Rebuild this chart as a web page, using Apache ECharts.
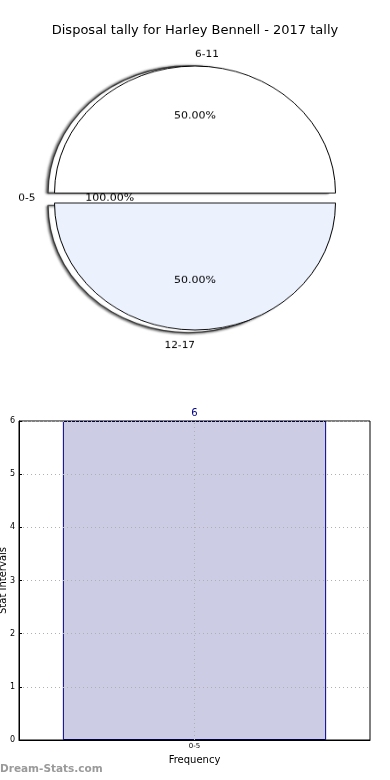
<!DOCTYPE html>
<html>
<head>
<meta charset="utf-8">
<script src="https://cdn.jsdelivr.net/npm/echarts@6/dist/echarts.min.js"></script>
<style>
html,body{margin:0;padding:0;background:#fff;}
#main{position:absolute;left:0;top:0;width:390px;height:780px;}
#pie{position:absolute;left:0;top:0;width:390px;height:400px;transform:scaleY(0.904);transform-origin:195px 198px;}
</style>
</head>
<body>
<div id="main"></div>
<div id="pie"></div>
<script>
// ---- data ----
const titleText = 'Disposal tally for Harley Bennell - 2017 tally';
const pieCategories = ['6-11', '0-5', '12-17'];
const pieValues = [1, 0, 1];
const pieColors = ['#ffffff', '#ffffff', '#ebf1fd'];
const piePctLabels = ['50.00%', '100.00%', '50.00%'];
const barCategories = ['0-5'];
const barValues = [6];
const yMin = 0, yMax = 6, yInterval = 1;
const xAxisName = 'Frequency';
const yAxisName = 'Stat Intervals';
const watermark = 'Dream-Stats.com';

const FONT = 'DejaVu Sans';

// ---- main chart (title + bar) ----
const main = echarts.init(document.getElementById('main'), null, {renderer: 'canvas'});
main.setOption({
  animation: false,
  backgroundColor: '#fff',
  title: {
    text: titleText, left: 'center', top: 19,
    textStyle: {fontFamily: FONT, fontSize: 13, fontWeight: 'normal', color: '#000'}
  },
  graphic: [{
    type: 'text', left: 0, top: 764,
    style: {text: watermark, fontFamily: FONT, fontSize: 10.5, fontWeight: 'bold', fill: '#9a9a9a'}
  }],
  grid: {left: 19, right: 20, top: 421, bottom: 40, outerBoundsMode: 'none', containLabel: false,
    show: true, borderColor: '#000', borderWidth: 1, backgroundColor: 'transparent', z: 0},
  xAxis: {
    type: 'category', data: barCategories,
    name: xAxisName, nameLocation: 'middle', nameGap: 15, nameMoveOverlap: false,
    nameTextStyle: {fontFamily: FONT, fontSize: 10, color: '#000'},
    axisLine: {lineStyle: {color: '#000', width: 1}},
    axisTick: {show: false},
    axisLabel: {fontFamily: FONT, fontSize: 7, color: '#000', margin: 3},
    splitLine: {show: false}
  },
  yAxis: {
    type: 'value', min: yMin, max: yMax, interval: yInterval,
    name: yAxisName, nameLocation: 'middle', nameGap: 11, nameRotate: 90, nameMoveOverlap: false,
    nameTextStyle: {fontFamily: FONT, fontSize: 10, color: '#000'},
    axisLine: {show: true, lineStyle: {color: '#000', width: 1}},
    axisTick: {show: true, inside: true, length: 3, lineStyle: {color: '#000'}},
    axisLabel: {fontFamily: FONT, fontSize: 8, color: '#000', margin: 4},
    splitLine: {show: true, lineStyle: {color: '#b0b0b0', type: [1, 3], width: 1}}
  },
  series: [{
    type: 'bar', data: barValues, barWidth: '75%', z: -1,
    itemStyle: {color: '#ccccE5', borderColor: '#00008b', borderWidth: 1},
    label: {show: true, position: 'top', distance: 3, fontFamily: FONT, fontSize: 10, color: '#00008b'},
    markLine: {
      silent: true, symbol: 'none', label: {show: false}, z: 5,
      lineStyle: {color: '#b0b0b0', type: [1, 3], width: 1},
      data: barCategories.map(c => ({xAxis: c}))
    }
  }]
});

// ---- pie chart (overlay, squashed vertically) ----
const pie = echarts.init(document.getElementById('pie'), null, {renderer: 'canvas'});
const R = 140.5;
const outerLen = [13, 19, 17];
// one shadow series per visible slice (top slice shadow shifted left only, bottom one left+down)
const shadowCenters = [[188.5, 198], null, [188.5, 200.8]];
const shadowBlurOffset = [[-1.5, 0], null, [-1, 1]];
const shadowSeries = shadowCenters.map((ctr, k) => ctr && ({
  type: 'pie', center: ctr, radius: [0, R], silent: true,
  startAngle: 0, clockwise: false,
  selectedMode: 'multiple', selectedOffset: 5.5,
  emphasis: {disabled: true},
  label: {show: false}, labelLine: {show: false},
  data: pieCategories.map((c, i) => ({
    name: c, value: pieValues[i], selected: pieValues[i] > 0,
    itemStyle: i === k
      ? {color: '#ffffff', borderColor: '#3a3a3a', borderWidth: 1.3, shadowBlur: 2.5,
         shadowOffsetX: shadowBlurOffset[k][0], shadowOffsetY: shadowBlurOffset[k][1], shadowColor: 'rgba(0,0,0,0.6)'}
      : {color: 'transparent', borderWidth: 0}
  }))
})).filter(Boolean);

pie.setOption({
  animation: false,
  series: shadowSeries.concat([
    {
      type: 'pie', center: [195, 198], radius: [0, R],
      startAngle: 0, clockwise: false, avoidLabelOverlap: false,
      selectedMode: 'multiple', selectedOffset: 5.5,
      emphasis: {disabled: true},
      label: {show: true, position: 'outside', fontFamily: FONT, fontSize: 10.5, color: '#000', distanceToLabelLine: 0},
      labelLine: {show: false, length: 15, length2: 0},
      data: pieCategories.map((c, i) => ({
        name: c, value: pieValues[i], selected: pieValues[i] > 0,
        labelLine: {show: false, length: outerLen[i], length2: 0},
        itemStyle: {color: pieColors[i], borderColor: '#000', borderWidth: pieValues[i] > 0 ? 1 : 0}
      }))
    },
    {
      type: 'pie', center: [195, 198], radius: [R * 0.17, R],
      startAngle: 0, clockwise: false, avoidLabelOverlap: false,
      selectedMode: 'multiple', selectedOffset: 5.5,
      emphasis: {disabled: true}, silent: true,
      itemStyle: {color: 'rgba(0,0,0,0)', borderWidth: 0},
      label: {show: true, position: 'inside', fontFamily: FONT, fontSize: 11, color: '#000',
        formatter: p => piePctLabels[p.dataIndex]},
      labelLine: {show: false},
      data: pieCategories.map((c, i) => ({name: c, value: pieValues[i], selected: pieValues[i] > 0}))
    }
  ])
});
</script>
</body>
</html>
